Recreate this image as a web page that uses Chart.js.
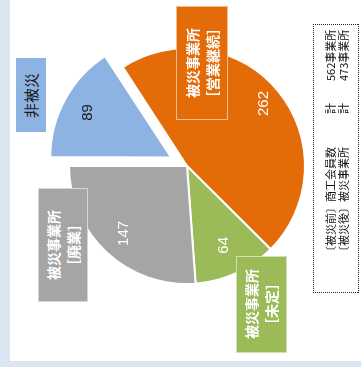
<!DOCTYPE html>
<html>
<head>
<meta charset="utf-8">
<script src="https://cdn.jsdelivr.net/npm/chart.js@4.4.1/dist/chart.umd.min.js"></script>
<style>
  html, body { margin: 0; padding: 0; }
  body { width: 361px; height: 367px; background: #dce6f2; position: relative; overflow: hidden; }
  #panel { position: absolute; left: 10px; top: 0; width: 351px; height: 361px; background: #fff; }
  #chartBox { position: absolute; left: 37px; top: 16px; width: 300px; height: 300px; }
  .tag {
    position: absolute; box-sizing: border-box;
    display: flex; align-items: center; justify-content: center;
    writing-mode: vertical-rl; text-orientation: sideways; transform: rotate(180deg);
    font-family: "Noto Sans CJK JP", sans-serif; font-size: 14px; line-height: 20px;
    font-weight: bold; color: #fff; text-align: center; white-space: pre;
    border: 1px solid rgba(255,255,255,0.55);
  }
  #note {
    position: absolute; left: 313px; top: 24px; width: 46px; height: 269px; box-sizing: border-box;
    border: 1px dotted #222;
    writing-mode: vertical-rl; text-orientation: sideways; transform: rotate(180deg);
    font-family: "Noto Sans CJK JP", sans-serif; font-size: 11px; line-height: 13.5px;
    color: #111; white-space: pre; padding-top: 35px; padding-right: 10px;
  }
</style>
</head>
<body>
<div id="panel"></div>
<div id="chartBox"><canvas id="pie"></canvas></div>
<div id="tags"></div>
<div id="note"></div>
<script>
// 被災状況（事業所数）
const categories = ['被災事業所［営業継続］', '被災事業所［未定］', '被災事業所［廃業］', '非被災'];
const values = [262, 64, 147, 89];
const sliceColors = ['#e36c09', '#9bbb59', '#a5a5a5', '#8db3e2'];
const noteLines = ['〔被災前〕商工会員数　　　計　　562事業所', '〔被災後〕被災事業所　　　計　　473事業所'];

// label placement (page px), value label radius factor, value colours
const tagBoxes = [
  { left: 176, top: 6, width: 52, height: 114 },
  { left: 236, top: 256, width: 51, height: 97 },
  { left: 38, top: 188, width: 50, height: 114 },
  { left: 16, top: 58, width: 30, height: 74 }
];
const labelRadius = [0.84, 0.74, 0.78, 0.8];
const valueColors = ['#fff', '#fff', '#fff', '#1a1a1a'];

// category tags drawn as rotated html text
const tagsEl = document.getElementById('tags');
categories.forEach((name, i) => {
  const el = document.createElement('div');
  el.className = 'tag';
  const b = tagBoxes[i];
  Object.assign(el.style, {
    left: b.left + 'px', top: b.top + 'px', width: b.width + 'px', height: b.height + 'px',
    background: sliceColors[i]
  });
  const k = name.indexOf('［');
  el.textContent = k > 0 ? name.slice(0, k) + '\n' + name.slice(k) : name;
  if (k < 0) {
    // 非被災: plain dark text
    el.style.fontWeight = 'normal';
    el.style.fontSize = '15px';
    el.style.color = '#1a1a1a';
    el.style.border = 'none';
  }
  tagsEl.appendChild(el);
});
document.getElementById('note').textContent = noteLines.join('\n');

// value labels, rotated like the rest of the picture
const valueLabels = {
  id: 'valueLabels',
  afterDatasetsDraw(chart) {
    const ctx = chart.ctx;
    const ds = chart.data.datasets[0];
    chart.getDatasetMeta(0).data.forEach((arc, i) => {
      const p = arc.getProps(['x', 'y', 'startAngle', 'endAngle', 'outerRadius']);
      const mid = (p.startAngle + p.endAngle) / 2;
      const r = p.outerRadius * labelRadius[i] + (ds.offset[i] || 0) / 4;
      ctx.save();
      ctx.translate(p.x + Math.cos(mid) * r, p.y + Math.sin(mid) * r);
      ctx.rotate(-Math.PI / 2);
      ctx.font = '15px "Liberation Sans", Arial, sans-serif';
      ctx.fillStyle = valueColors[i];
      ctx.textAlign = 'center';
      ctx.textBaseline = 'middle';
      ctx.fillText(String(ds.data[i]), 0, 0);
      ctx.restore();
    });
  }
};

new Chart(document.getElementById('pie'), {
  type: 'pie',
  data: {
    labels: categories,
    datasets: [{
      data: values,
      backgroundColor: sliceColors,
      borderColor: '#fff',
      borderWidth: 2,
      offset: [0, 0, 0, 72]
    }]
  },
  options: {
    responsive: true,
    maintainAspectRatio: false,
    animation: false,
    rotation: -33,
    radius: 118,
    layout: { padding: 0 },
    plugins: {
      legend: { display: false },
      tooltip: { enabled: false }
    }
  },
  plugins: [valueLabels]
});
</script>
</body>
</html>
